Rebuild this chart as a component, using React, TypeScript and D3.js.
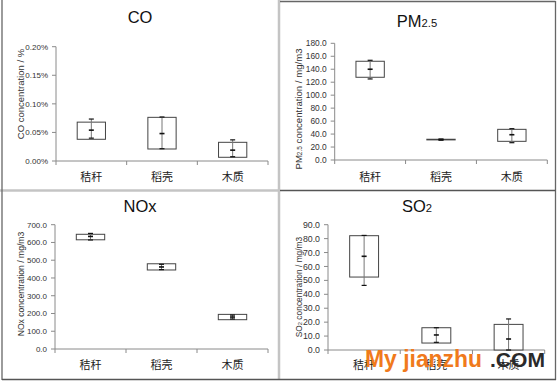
import React from "react";
import * as d3 from "d3";

const categories = ["秸秆", "稻壳", "木质"];

// CO (%)
const coBoxLow = [0.038, 0.021, 0.0065];
const coBoxHigh = [0.068, 0.0764, 0.0327];
const coLow = [0.04, 0.0215, 0.0075];
const coHigh = [0.0734, 0.077, 0.037];
const coMean = [0.054, 0.048, 0.019];
const coTicks = [0, 0.05, 0.1, 0.15, 0.2];

// PM2.5 (mg/m3)
const pmBoxLow = [127.6, 31, 28.8];
const pmBoxHigh = [152.3, 32, 47.3];
const pmLow = [125, 30.6, 26.7];
const pmHigh = [153.8, 32.3, 48.3];
const pmMean = [140, 31.5, 39];
const pmTicks = [0, 20, 40, 60, 80, 100, 120, 140, 160, 180];

// NOx (mg/m3)
const noxBoxLow = [615, 445, 165];
const noxBoxHigh = [646, 480, 195];
const noxLow = [614, 447, 169];
const noxHigh = [651, 477, 191];
const noxMean = [634, 462, 180];
const noxTicks = [0, 100, 200, 300, 400, 500, 600, 700];

// SO2 (mg/m3)
const so2BoxLow = [52.4, 5.0, 0];
const so2BoxHigh = [82.1, 16.0, 18.4];
const so2Low = [46.4, 5.5, 0];
const so2High = [82.3, 16.0, 22.3];
const so2Mean = [67.3, 10.8, 7.9];
const so2Ticks = [0, 10, 20, 30, 40, 50, 60, 70, 80, 90];

const FONT = "'Liberation Sans', Arial, sans-serif";
const CJK = "'Noto Sans CJK SC', sans-serif";

type Part = { t: string; small?: boolean };

type Spec = {
  left: number;
  right: number;
  bottom: number;
  top: number;
  ticks: number[];
  fmt: (v: number) => string;
  tickFont: number;
  boxLow: number[];
  boxHigh: number[];
  low: number[];
  high: number[];
  mean: number[];
  title: Part[];
  titleX: number;
  titleY: number;
  yLabel: Part[];
  yLabelX: number;
  yLabelY: number;
  yLabelFont: number;
  catY: number;
};

function Parts({ parts, size }: { parts: Part[]; size: number }) {
  return (
    <>
      {parts.map((p, i) => (
        <tspan key={i} fontSize={p.small ? size * 0.68 : size}>
          {p.t}
        </tspan>
      ))}
    </>
  );
}

function Panel({ s }: { s: Spec }) {
  const max = s.ticks[s.ticks.length - 1];
  const x = d3.scaleBand<string>().domain(categories).range([s.left, s.right]);
  const y = d3.scaleLinear().domain([0, max]).range([s.bottom, s.top]);
  const bw = x.bandwidth();
  const boxW = bw * 0.4;
  const bounds = d3.range(categories.length + 1).map((i) => s.left + i * bw);
  return (
    <g>
      <line x1={s.left} x2={s.left} y1={y(max)} y2={s.bottom} stroke="#8a8a8a" strokeWidth={1} />
      <line x1={s.left} x2={s.right} y1={s.bottom} y2={s.bottom} stroke="#8a8a8a" strokeWidth={1} />
      {s.ticks.map((t) => (
        <g key={t}>
          <line x1={s.left - 4} x2={s.left} y1={y(t)} y2={y(t)} stroke="#8a8a8a" />
          <text
            x={s.left - 8}
            y={y(t)}
            dy="0.35em"
            textAnchor="end"
            fontSize={s.tickFont}
            fontFamily={FONT}
            fill="#333"
          >
            {s.fmt(t)}
          </text>
        </g>
      ))}
      {bounds.map((b, i) => (
        <line key={i} x1={b} x2={b} y1={s.bottom} y2={s.bottom + 4} stroke="#8a8a8a" />
      ))}
      {categories.map((c) => (
        <text
          key={c}
          x={(x(c) as number) + bw / 2}
          y={s.catY}
          dy="0.35em"
          textAnchor="middle"
          fontSize={11}
          fontFamily={CJK}
          fill="#222"
        >
          {c}
        </text>
      ))}
      {categories.map((c, i) => {
        const cx = (x(c) as number) + bw / 2;
        const yt = y(s.boxHigh[i]);
        const yb = y(s.boxLow[i]);
        return (
          <g key={c}>
            <rect
              x={cx - boxW / 2}
              y={yt}
              width={boxW}
              height={Math.max(yb - yt, 0.5)}
              fill="#fff"
              stroke="#444"
              strokeWidth={1}
            />
            <line x1={cx} x2={cx} y1={y(s.high[i])} y2={y(s.low[i])} stroke="#777" strokeWidth={1} />
            <line x1={cx - 2.5} x2={cx + 2.5} y1={y(s.high[i])} y2={y(s.high[i])} stroke="#111" strokeWidth={1.2} />
            <line x1={cx - 2.5} x2={cx + 2.5} y1={y(s.low[i])} y2={y(s.low[i])} stroke="#111" strokeWidth={1.2} />
            <line x1={cx - 2.5} x2={cx + 2.5} y1={y(s.mean[i])} y2={y(s.mean[i])} stroke="#111" strokeWidth={1.6} />
          </g>
        );
      })}
      <text x={s.titleX} y={s.titleY} textAnchor="middle" fontFamily={FONT} fill="#111">
        <Parts parts={s.title} size={16.5} />
      </text>
      <text
        transform={`translate(${s.yLabelX},${s.yLabelY}) rotate(-90)`}
        textAnchor="middle"
        dy="0.35em"
        fontFamily={FONT}
        fill="#333"
      >
        <Parts parts={s.yLabel} size={s.yLabelFont} />
      </text>
    </g>
  );
}

const specs: Spec[] = [
  {
    left: 56, right: 268, bottom: 161, top: 46.7,
    ticks: coTicks, fmt: (v) => v.toFixed(2) + "%", tickFont: 8,
    boxLow: coBoxLow, boxHigh: coBoxHigh, low: coLow, high: coHigh, mean: coMean,
    title: [{ t: "CO" }], titleX: 140, titleY: 22.7,
    yLabel: [{ t: "CO concentration / %" }], yLabelX: 18, yLabelY: 94, yLabelFont: 9.5,
    catY: 176.7,
  },
  {
    left: 334.7, right: 547.3, bottom: 160, top: 43.3,
    ticks: pmTicks, fmt: (v) => v.toFixed(1), tickFont: 8.4,
    boxLow: pmBoxLow, boxHigh: pmBoxHigh, low: pmLow, high: pmHigh, mean: pmMean,
    title: [{ t: "PM" }, { t: "2.5", small: true }], titleX: 417, titleY: 26.7,
    yLabel: [{ t: "PM" }, { t: "2.5", small: true }, { t: " concentration / mg/m3" }],
    yLabelX: 296, yLabelY: 109, yLabelFont: 9.6,
    catY: 176.7,
  },
  {
    left: 55, right: 268, bottom: 349, top: 224.7,
    ticks: noxTicks, fmt: (v) => v.toFixed(1), tickFont: 8,
    boxLow: noxBoxLow, boxHigh: noxBoxHigh, low: noxLow, high: noxHigh, mean: noxMean,
    title: [{ t: "NOx" }], titleX: 140, titleY: 212,
    yLabel: [{ t: "NOx concentration / mg/m3" }], yLabelX: 18, yLabelY: 284, yLabelFont: 8.6,
    catY: 364.7,
  },
  {
    left: 328, right: 544.7, bottom: 350, top: 224.7,
    ticks: so2Ticks, fmt: (v) => v.toFixed(1), tickFont: 8.8,
    boxLow: so2BoxLow, boxHigh: so2BoxHigh, low: so2Low, high: so2High, mean: so2Mean,
    title: [{ t: "SO" }, { t: "2", small: true }], titleX: 417, titleY: 212,
    yLabel: [{ t: "SO" }, { t: "2", small: true }, { t: " concentration / mg/m3" }],
    yLabelX: 296, yLabelY: 287, yLabelFont: 8.4,
    catY: 364.7,
  },
];

export default function App() {
  return (
    <svg
      width={558}
      height={382}
      style={{ position: "absolute", left: 0, top: 0, background: "#fff" }}
    >
      <rect x={0} y={0} width={558} height={382} fill="#fff" />
      <line x1={0} x2={279} y1={190.5} y2={190.5} stroke="#c4c4c4" strokeWidth={2.5} />
      <line x1={279} x2={279} y1={0} y2={380} stroke="#c4c4c4" strokeWidth={2.5} />
      <line x1={2} x2={2} y1={0} y2={380} stroke="#666" strokeWidth={1.3} />
      <line x1={280} x2={555.5} y1={1.5} y2={1.5} stroke="#666" strokeWidth={1.3} />
      <line x1={555.5} x2={555.5} y1={1} y2={380} stroke="#666" strokeWidth={1.3} />
      <line x1={280} x2={555.5} y1={190.5} y2={190.5} stroke="#555" strokeWidth={1.3} />
      <line x1={2} x2={556} y1={379.5} y2={379.5} stroke="#555" strokeWidth={1.3} />
      {specs.map((s, i) => (
        <Panel key={i} s={s} />
      ))}
      <text
        x={365}
        y={367}
        fontFamily={FONT}
        fontWeight="bold"
        fontSize={23}
        fill="#f07a1c"
        textLength={117}
        lengthAdjust="spacingAndGlyphs"
      >
        My jianzhu
      </text>
      <text
        x={490}
        y={367}
        fontFamily={FONT}
        fontWeight="bold"
        fontSize={21}
        fill="#2a2a2a"
        textLength={55}
        lengthAdjust="spacingAndGlyphs"
      >
        .COM
      </text>
    </svg>
  );
}
